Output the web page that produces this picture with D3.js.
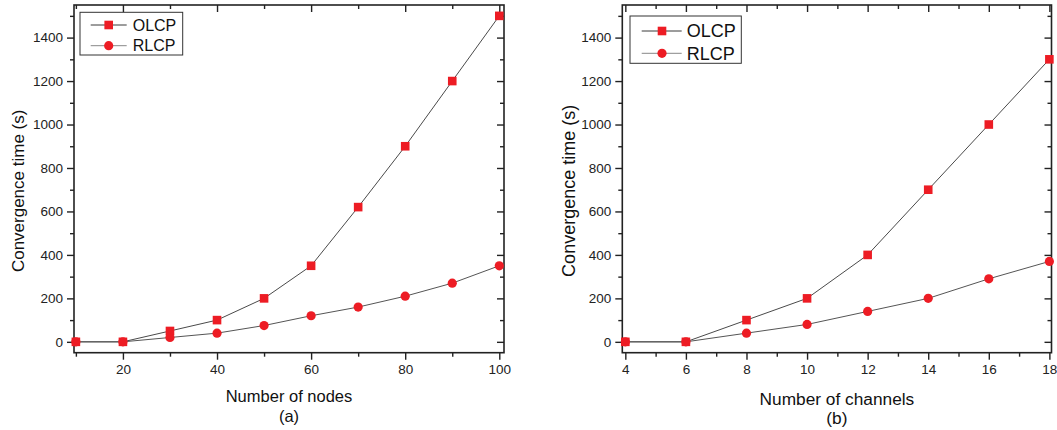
<!DOCTYPE html>
<html>
<head>
<meta charset="utf-8">
<script src="https://cdn.jsdelivr.net/npm/d3@7"></script>
<style>
  html, body { margin: 0; padding: 0; background: #fff; }
  svg { display: block; font-family: "Liberation Sans", Arial, sans-serif; }
</style>
</head>
<body>
<svg id="chart" width="1057" height="430"></svg>
<script>
// ---- data ----
const nodes = [10, 20, 30, 40, 50, 60, 70, 80, 90, 100];
const nodesOLCP = [0, 0, 50, 100, 200, 350, 620, 900, 1200, 1500];
const nodesRLCP = [0, 0, 20, 40, 75, 120, 160, 210, 270, 350];

const channels = [4, 6, 8, 10, 12, 14, 16, 18];
const channelsOLCP = [0, 0, 100, 200, 400, 700, 1000, 1300];
const channelsRLCP = [0, 0, 40, 80, 140, 200, 290, 370];

const seriesNames = ["OLCP", "RLCP"];
const yMajorTicks = [0, 200, 400, 600, 800, 1000, 1200, 1400];
const yMinorTicks = [100, 300, 500, 700, 900, 1100, 1300, 1500];
const nodeMajorTicks = [20, 40, 60, 80, 100];
const nodeMinorTicks = [10, 30, 50, 70, 90];
const channelMajorTicks = [4, 6, 8, 10, 12, 14, 16, 18];
const channelMinorTicks = [5, 7, 9, 11, 13, 15, 17];

const yTitle = "Convergence time (s)";
const panelTitles = ["Number of nodes", "Number of channels"];
const panelLabels = ["(a)", "(b)"];

// ---- layout ----
const svg = d3.select("#chart");
const RED = "#ed1c24";
const AXIS = "#222";

const panels = [
  {
    x: nodes, olcp: nodesOLCP, rlcp: nodesRLCP,
    xDomain: [9.6, 101], xMajor: nodeMajorTicks, xMinor: nodeMinorTicks,
    left: 74, right: 504, top: 5, bottom: 352.7,
    title: panelTitles[0], label: panelLabels[0],
    titleSize: 16.5, yTitleSize: 17, yTitleX: 23.5,
    titleY: 401.5, labelY: 421.5,
    legend: {x0: 80, x1: 182.7, y0: 12.3, y1: 55, row1: 25, row2: 45.7, lx0: 90.7, lx1: 126.7, mx: 108.7, tx: 132.7, fs: 16}
  },
  {
    x: channels, olcp: channelsOLCP, rlcp: channelsRLCP,
    xDomain: [3.9, 18.07], xMajor: channelMajorTicks, xMinor: channelMinorTicks,
    left: 622.3, right: 1051.5, top: 5, bottom: 352.7,
    title: panelTitles[1], label: panelLabels[1],
    titleSize: 17.3, yTitleSize: 18, yTitleX: 574.5,
    titleY: 405, labelY: 424,
    legend: {x0: 630, x1: 741.3, y0: 16, y1: 63.3, row1: 31, row2: 53.3, lx0: 641.7, lx1: 681.7, mx: 662, tx: 686.7, fs: 18}
  }
];

panels.forEach(p => {
  const x = d3.scaleLinear().domain(p.xDomain).range([p.left, p.right]);
  const y = d3.scaleLinear().domain([-50, 1550]).range([p.bottom, p.top]);
  const g = svg.append("g");

  const styleAxis = sel => {
    sel.select(".domain").remove();
    sel.selectAll(".tick line").attr("stroke", AXIS).attr("stroke-width", 1.4);
    sel.selectAll(".tick text").attr("fill", "#222").style("font-size", "13.5px")
      .style("font-family", '"Liberation Sans", Arial, sans-serif');
  };

  // bottom axis (outward ticks)
  g.append("g").attr("transform", `translate(0,${p.bottom})`)
    .call(d3.axisBottom(x).tickValues(p.xMajor).tickSize(7).tickPadding(5).tickFormat(d3.format("d")))
    .call(styleAxis);
  g.append("g").attr("transform", `translate(0,${p.bottom})`)
    .call(d3.axisBottom(x).tickValues(p.xMinor).tickSize(4).tickFormat(""))
    .call(styleAxis);
  // top axis (inward ticks)
  g.append("g").attr("transform", `translate(0,${p.top})`)
    .call(d3.axisBottom(x).tickValues(p.xMajor).tickSize(7).tickFormat(""))
    .call(styleAxis);
  g.append("g").attr("transform", `translate(0,${p.top})`)
    .call(d3.axisBottom(x).tickValues(p.xMinor).tickSize(4).tickFormat(""))
    .call(styleAxis);
  // left axis (outward)
  g.append("g").attr("transform", `translate(${p.left},0)`)
    .call(d3.axisLeft(y).tickValues(yMajorTicks).tickSize(7).tickPadding(4).tickFormat(d3.format("d")))
    .call(styleAxis);
  g.append("g").attr("transform", `translate(${p.left},0)`)
    .call(d3.axisLeft(y).tickValues(yMinorTicks).tickSize(4).tickFormat(""))
    .call(styleAxis);
  // right axis (inward)
  g.append("g").attr("transform", `translate(${p.right},0)`)
    .call(d3.axisLeft(y).tickValues(yMajorTicks).tickSize(7).tickFormat(""))
    .call(styleAxis);
  g.append("g").attr("transform", `translate(${p.right},0)`)
    .call(d3.axisLeft(y).tickValues(yMinorTicks).tickSize(4).tickFormat(""))
    .call(styleAxis);

  // frame
  g.append("rect")
    .attr("x", p.left).attr("y", p.top)
    .attr("width", p.right - p.left).attr("height", p.bottom - p.top)
    .attr("fill", "none").attr("stroke", AXIS).attr("stroke-width", 1.6);

  // lines
  const line = d3.line().x(d => x(d[0])).y(d => y(d[1]));
  const olcpPts = p.x.map((v, i) => [v, p.olcp[i]]);
  const rlcpPts = p.x.map((v, i) => [v, p.rlcp[i]]);
  g.append("path").datum(olcpPts).attr("d", line)
    .attr("fill", "none").attr("stroke", "#4a4a4a").attr("stroke-width", 1);
  g.append("path").datum(rlcpPts).attr("d", line)
    .attr("fill", "none").attr("stroke", "#555").attr("stroke-width", 1);

  // markers
  const sq = 8.6;
  g.selectAll(null).data(olcpPts).enter().append("rect")
    .attr("x", d => x(d[0]) - sq / 2).attr("y", d => y(d[1]) - sq / 2)
    .attr("width", sq).attr("height", sq).attr("fill", RED);
  g.selectAll(null).data(rlcpPts).enter().append("circle")
    .attr("cx", d => x(d[0])).attr("cy", d => y(d[1])).attr("r", 4.6).attr("fill", RED);

  // axis titles
  g.append("text")
    .attr("transform", `translate(${p.yTitleX},${(p.top + p.bottom) / 2 + 12}) rotate(-90)`)
    .attr("text-anchor", "middle").attr("fill", "#111")
    .style("font-size", p.yTitleSize + "px").text(yTitle);
  g.append("text")
    .attr("x", (p.left + p.right) / 2).attr("y", p.titleY)
    .attr("text-anchor", "middle").attr("fill", "#111")
    .style("font-size", p.titleSize + "px").text(p.title);
  g.append("text")
    .attr("x", (p.left + p.right) / 2).attr("y", p.labelY)
    .attr("text-anchor", "middle").attr("fill", "#111")
    .style("font-size", p.titleSize + "px").text(p.label);

  // legend
  const L = p.legend;
  g.append("rect").attr("x", L.x0).attr("y", L.y0)
    .attr("width", L.x1 - L.x0).attr("height", L.y1 - L.y0)
    .attr("fill", "#fff").attr("stroke", "#333").attr("stroke-width", 1);
  const rows = [L.row1, L.row2];
  const lineCols = ["#3a3a3a", "#888"];
  seriesNames.forEach((name, i) => {
    g.append("line").attr("x1", L.lx0).attr("x2", L.lx1)
      .attr("y1", rows[i]).attr("y2", rows[i])
      .attr("stroke", lineCols[i]).attr("stroke-width", 1);
    if (i === 0) {
      g.append("rect").attr("x", L.mx - sq / 2).attr("y", rows[i] - sq / 2)
        .attr("width", sq).attr("height", sq).attr("fill", RED);
    } else {
      g.append("circle").attr("cx", L.mx).attr("cy", rows[i]).attr("r", 4.6).attr("fill", RED);
    }
    g.append("text").attr("x", L.tx).attr("y", rows[i]).attr("dy", "0.36em")
      .attr("fill", "#111").style("font-size", L.fs + "px").text(name);
  });
});
</script>
</body>
</html>
